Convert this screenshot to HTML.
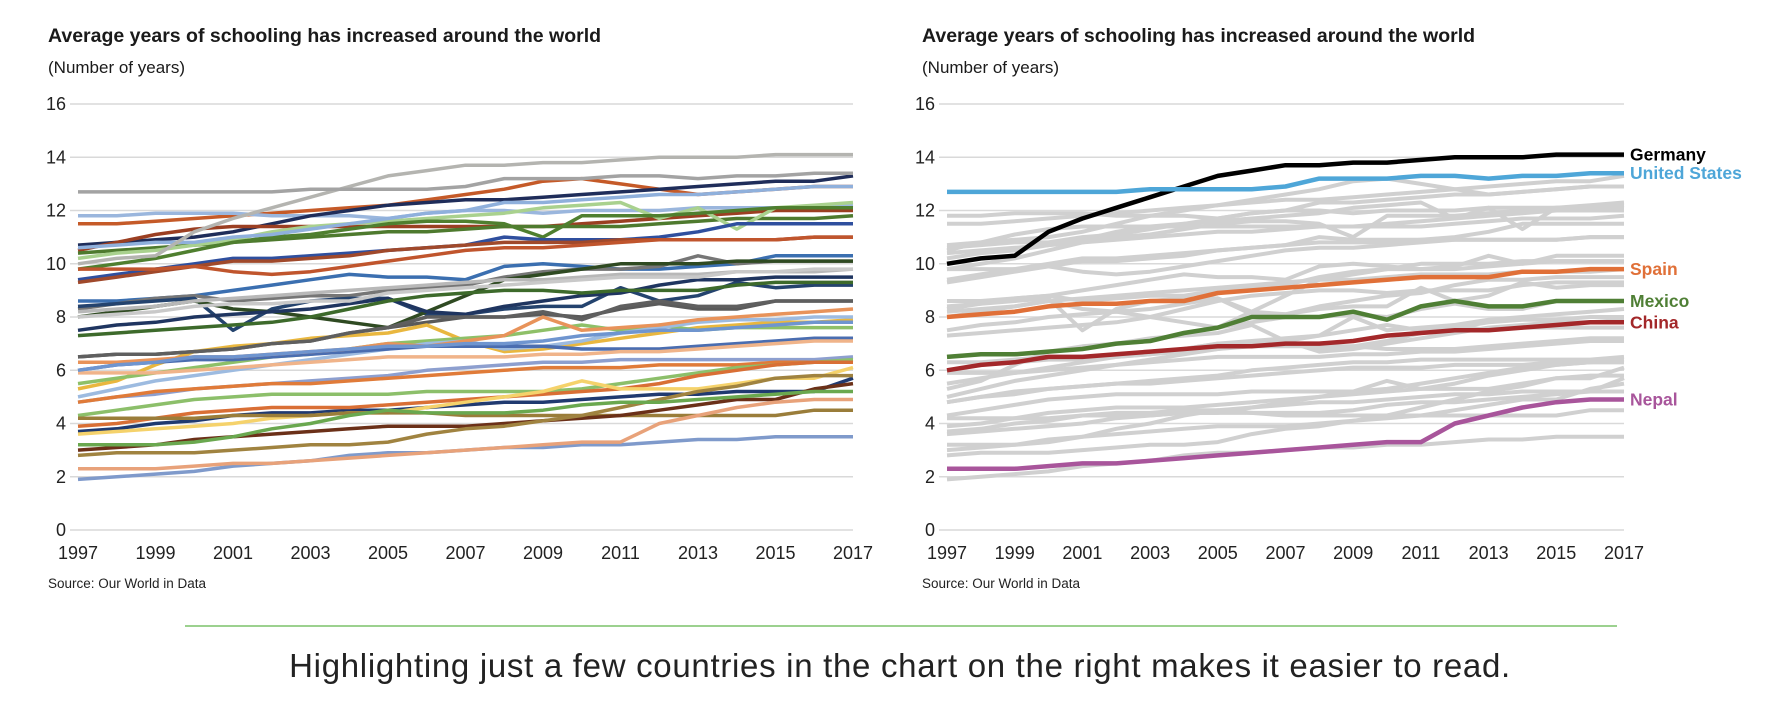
<!DOCTYPE html>
<html><head><meta charset="utf-8">
<style>
body{margin:0;background:#fff;width:1784px;height:704px;overflow:hidden;font-family:"Liberation Sans",sans-serif;}
svg{position:absolute;left:0;top:0;}
</style></head>
<body>
<svg id="chart" width="1784" height="704" xmlns="http://www.w3.org/2000/svg"></svg>
<script>
const years=[1997,1998,1999,2000,2001,2002,2003,2004,2005,2006,2007,2008,2009,2010,2011,2012,2013,2014,2015,2016,2017];
const yTicks=[0,2,4,6,8,10,12,14,16];
const xTickYears=[1997,1999,2001,2003,2005,2007,2009,2011,2013,2015,2017];
const germany=[10,10.2,10.3,11.2,11.7,12.1,12.5,12.9,13.3,13.5,13.7,13.7,13.8,13.8,13.9,14,14,14,14.1,14.1,14.1];
const unitedStates=[12.7,12.7,12.7,12.7,12.7,12.7,12.8,12.8,12.8,12.8,12.9,13.2,13.2,13.2,13.3,13.3,13.2,13.3,13.3,13.4,13.4];
const spain=[8,8.1,8.2,8.4,8.5,8.5,8.6,8.6,8.9,9,9.1,9.2,9.3,9.4,9.5,9.5,9.5,9.7,9.7,9.8,9.8];
const mexico=[6.5,6.6,6.6,6.7,6.8,7,7.1,7.4,7.6,8,8,8,8.2,7.9,8.4,8.6,8.4,8.4,8.6,8.6,8.6];
const china=[6,6.2,6.3,6.5,6.5,6.6,6.7,6.8,6.9,6.9,7,7,7.1,7.3,7.4,7.5,7.5,7.6,7.7,7.8,7.8];
const nepal=[2.3,2.3,2.3,2.4,2.5,2.5,2.6,2.7,2.8,2.9,3,3.1,3.2,3.3,3.3,4,4.3,4.6,4.8,4.9,4.9];
const others=[
[11.5,11.5,11.6,11.7,11.8,11.9,12,12.1,12.2,12.4,12.6,12.8,13.1,13.2,13,12.8,12.6,12.7,12.8,12.9,12.9],
[11.8,11.8,11.9,11.9,11.9,11.8,11.8,11.8,11.7,11.9,12,12,11.9,12,12,12,12.1,12.1,12.1,12.1,12.2],
[10.7,10.8,10.9,11,11.2,11.5,11.8,12,12.2,12.3,12.4,12.4,12.5,12.6,12.7,12.8,12.9,13,13.1,13.1,13.3],
[10.5,10.8,11.1,11.3,11.4,11.4,11.4,11.4,11.4,11.4,11.4,11.4,11.4,11.5,11.6,11.7,11.8,11.9,12,12,12],
[10.4,10.5,10.6,10.7,10.8,10.9,11,11.1,11.2,11.2,11.3,11.4,11.4,11.4,11.4,11.5,11.6,11.7,11.7,11.7,11.8],
[10.2,10.4,10.5,10.7,10.9,11.2,11.4,11.5,11.6,11.7,11.8,11.9,12.1,12.2,12.3,11.7,12.1,11.3,12.1,12.2,12.3],
[9.8,10,10.2,10.5,10.8,11,11.1,11.3,11.5,11.6,11.6,11.5,11,11.8,11.8,11.8,11.9,12,12.1,12.1,12.1],
[10.6,10.7,10.8,10.8,11,11.1,11.3,11.5,11.7,11.9,12,12.3,12.3,12.4,12.5,12.6,12.6,12.7,12.8,12.9,12.9],
[9.4,9.6,9.8,10,10.2,10.2,10.3,10.4,10.5,10.6,10.7,11,10.9,10.9,10.9,11,11.2,11.5,11.5,11.5,11.5],
[9.3,9.5,9.7,9.9,10.1,10.1,10.2,10.3,10.5,10.6,10.7,10.8,10.8,10.8,10.9,10.9,10.9,10.9,10.9,11,11],
[9.8,9.8,9.8,9.9,9.7,9.6,9.7,9.9,10.1,10.3,10.5,10.6,10.6,10.7,10.8,10.9,10.9,10.9,10.9,11,11],
[8.6,8.6,8.7,8.8,9,9.2,9.4,9.6,9.5,9.5,9.4,9.9,10,9.9,9.8,9.8,9.9,10,10.3,10.3,10.3],
[8.3,8.5,8.7,8.8,8.6,8.7,8.8,8.8,9,9.1,9.2,9.5,9.7,9.8,9.8,9.9,10.3,10,10.1,10.1,10.1],
[8.4,8.5,8.6,8.7,7.5,8.3,8.6,8.7,8.7,8.1,8.1,8.3,8.4,8.4,9.1,8.6,8.8,9.3,9.1,9.2,9.2],
[8,8.2,8.4,8.6,8.3,8.2,8,7.8,7.6,8.2,8.8,9.4,9.6,9.8,10,10,10,10.1,10.1,10.1,10.1],
[8.2,8.3,8.4,8.6,8.7,8.8,8.9,9,9.1,9.2,9.3,9.4,9.4,9.5,9.6,9.6,9.6,9.7,9.7,9.7,9.8],
[7.5,7.7,7.8,8,8.1,8.2,8.3,8.5,8.7,8.2,8.1,8.4,8.6,8.8,8.9,9.2,9.4,9.4,9.5,9.5,9.5],
[7.3,7.4,7.5,7.6,7.7,7.8,8,8.3,8.6,8.8,8.9,9,9,8.9,9,9,9,9.2,9.3,9.3,9.3],
[6.5,6.6,6.6,6.7,6.8,7,7.1,7.4,7.6,7.8,8,8,8.1,8,8.3,8.5,8.3,8.3,8.6,8.6,8.6],
[5.3,5.6,6.2,6.7,6.9,7,7.2,7.3,7.4,7.7,7.1,6.7,6.8,7,7.2,7.4,7.6,7.7,7.8,7.8,7.9],
[5.5,5.7,5.9,6.1,6.3,6.5,6.6,6.8,7,7.1,7.2,7.3,7.5,7.7,7.5,7.7,7.5,7.6,7.6,7.6,7.6],
[5,5.3,5.6,5.8,6,6.2,6.4,6.6,6.8,7,7.1,6.8,6.9,7.1,7.4,7.6,7.8,7.9,7.9,8,8],
[6,6.2,6.3,6.4,6.4,6.5,6.6,6.7,6.8,6.9,6.9,6.9,6.9,6.8,6.8,6.8,6.9,7,7.1,7.2,7.2],
[5.9,5.9,5.9,6,6.1,6.2,6.3,6.4,6.5,6.5,6.5,6.5,6.6,6.6,6.7,6.7,6.8,6.9,7,7.1,7.1],
[4.8,5,5.1,5.3,5.4,5.5,5.6,5.7,5.8,6,6.1,6.2,6.3,6.3,6.4,6.4,6.4,6.4,6.4,6.4,6.5],
[4.8,5,5.2,5.3,5.4,5.5,5.5,5.6,5.7,5.8,5.9,6,6.1,6.1,6.1,6.2,6.2,6.2,6.3,6.3,6.3],
[6.3,6.3,6.4,6.5,6.5,6.6,6.7,6.8,7,6.9,7.1,7.3,8,7.5,7.6,7.7,7.9,8,8.1,8.2,8.3],
[4.3,4.5,4.7,4.9,5,5.1,5.1,5.1,5.1,5.2,5.2,5.2,5.2,5.3,5.5,5.7,5.9,6.1,6.2,6.3,6.4],
[3.7,3.8,4,4.1,4.3,4.4,4.4,4.5,4.5,4.6,4.7,4.8,4.8,4.9,5,5.1,5.1,5.2,5.2,5.2,5.7],
[3.9,4,4.2,4.4,4.5,4.6,4.6,4.6,4.7,4.8,4.9,5,5.1,5.2,5.3,5.5,5.8,6,6.2,6.3,6.3],
[3.6,3.7,3.8,3.9,4,4.2,4.3,4.4,4.4,4.6,4.8,5,5.2,5.6,5.3,5.3,5.3,5.5,5.7,5.7,6.1],
[4.2,4.2,4.2,4.2,4.3,4.3,4.3,4.4,4.4,4.4,4.3,4.3,4.3,4.3,4.3,4.3,4.3,4.3,4.3,4.5,4.5],
[3,3.1,3.2,3.4,3.5,3.6,3.7,3.8,3.9,3.9,3.9,4,4.1,4.2,4.3,4.5,4.7,4.9,4.9,5.3,5.5],
[2.8,2.9,2.9,2.9,3,3.1,3.2,3.2,3.3,3.6,3.8,3.9,4.1,4.3,4.6,4.9,5.2,5.4,5.7,5.8,5.8],
[3.2,3.2,3.2,3.3,3.5,3.8,4,4.3,4.5,4.4,4.4,4.4,4.5,4.7,4.8,4.8,4.9,5,5.1,5.2,5.2],
[1.9,2,2.1,2.2,2.4,2.5,2.6,2.8,2.9,2.9,3,3.1,3.1,3.2,3.2,3.3,3.4,3.4,3.5,3.5,3.5]
];
const otherColors=["#c55a28","#9ab6dd","#1f2d5a","#9b3f22","#4e7a2e","#a9d18e","#4f7f2f","#8fb0dc","#2f4f9e","#a0492b","#c0552d","#3b6fb0","#767676","#24436e","#2f4a22","#b8b8b8","#1f3560","#3d6a2b","#5a5a5a","#e9b73f","#8ec068","#9dbbe0","#4a6db0","#f0b48a","#8d9fcf","#e07b39","#e8935a","#8cbf6a","#203a70","#d96f35","#f5d26b","#9a7d3a","#6b3018","#a08340","#6aa84f","#7f9acb"];
const highlighted=[["Germany",germany,"#000000","#b4b4b0"],["United States",unitedStates,"#4ea6d8","#a3a3a3"],["Spain",spain,"#e07038","#c9c9c9"],["Mexico",mexico,"#4f7f35","#5f5f5f"],["China",china,"#a3282a","#6f95cf"],["Nepal",nepal,"#a8559b","#e8a27a"]];

const svg=document.getElementById('chart');
const NS="http://www.w3.org/2000/svg";
function mk(tag,attrs,parent){const e=document.createElementNS(NS,tag);for(const k in attrs)e.setAttribute(k,attrs[k]);parent.appendChild(e);return e;}
function txt(s,attrs,parent){const e=mk('text',attrs,parent);e.textContent=s;return e;}

function drawChart(x0,x1,y0,y1,titleX,right){
  const g=mk('g',{},svg);
  
  
  const xs=y=>x0+(y-1997)/(2017-1997)*(x1-x0);
  const ys=v=>y1-v/16*(y1-y0);
  const t=txt('Average years of schooling has increased around the world',{x:titleX,y:42,'font-size':19.5,'font-weight':'bold',fill:'#1a1a1a'},g);
  
  const st=txt('(Number of years)',{x:titleX,y:73,'font-size':17,fill:'#1a1a1a'},g);
  
  yTicks.forEach(v=>{
    const l=mk('line',{x1:x0-8,x2:x1,y1:ys(v),y2:ys(v),stroke:'#d9d9d9','stroke-width':1.5},g);
    
    const lb=txt(String(v),{x:x0-12,y:ys(v)+6,'font-size':18,'text-anchor':'end',fill:'#222'},g);
    
  });
  xTickYears.forEach(yr=>{
    const lb=txt(String(yr),{x:xs(yr),y:y1+29,'font-size':18,'text-anchor':'middle',fill:'#222'},g);
    
  });
  const src=txt('Source: Our World in Data',{x:titleX,y:y1+58,'font-size':13.5,fill:'#222'},g);
  
  const pts=a=>a.map((v,i)=>xs(years[i]).toFixed(1)+','+ys(v).toFixed(1)).join(' ');
  others.forEach((s,i)=>{
    const p=mk('polyline',{points:pts(s),fill:'none',stroke:right?'#d0d0d0':otherColors[i%otherColors.length],'stroke-width':right?4:3.5,'stroke-linejoin':'round'},g);
    
  });
  highlighted.forEach(h=>{
    const p=mk('polyline',{points:pts(h[1]),fill:'none',stroke:right?h[2]:h[3],'stroke-width':right?4.5:3.5,'stroke-linejoin':'round'},g);
    
  });
  if(right){
    highlighted.forEach(h=>{
      const last=h[1][h[1].length-1];
      const lb=txt(h[0],{x:x1+6,y:ys(last)+6,'font-size':17.5,'font-weight':'bold',fill:h[2]},g);
      
    });
  }
}
drawChart(78,853,104,530,48,false);
drawChart(947,1624,104,530,922,true);
const sep=mk('line',{x1:185,x2:1617,y1:626,y2:626,stroke:'#7cc26a','stroke-width':1.5},svg);

const cap=txt('Highlighting just a few countries in the chart on the right makes it easier to read.',{x:900,y:677,'font-size':33,'text-anchor':'middle',fill:'#222','letter-spacing':'0.7'},svg);

</script>
</body></html>
